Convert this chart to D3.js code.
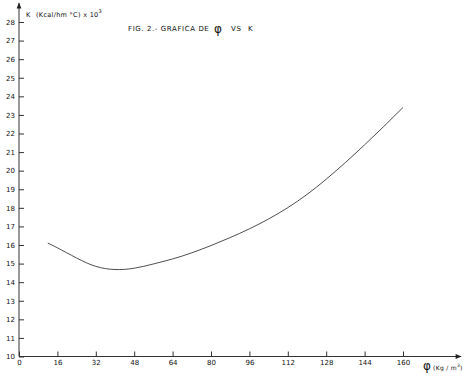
<!DOCTYPE html>
<html>
<head>
<meta charset="utf-8">
<script src="https://cdn.jsdelivr.net/npm/d3@7"></script>
<style>
  body { margin: 0; background: #fff; }
  text, tspan { font-family: "DejaVu Sans", sans-serif; fill: #111; }
</style>
</head>
<body>
<div id="chart"></div>
<script>
// density (Kg/m3) and K (Kcal/hm C x 10^3)
var density = [12, 16, 24, 32, 40, 48, 56, 64, 72, 80, 88, 96, 104, 112, 120, 128, 136, 144, 152, 160];
var kValues = [16.1, 15.85, 15.3, 14.85, 14.68, 14.75, 14.98, 15.25, 15.58, 15.97, 16.4, 16.87, 17.4, 18.01, 18.72, 19.54, 20.44, 21.39, 22.38, 23.4];
var xTicks = [0, 16, 32, 48, 64, 80, 96, 112, 128, 144, 160];
var yTicks = [10, 11, 12, 13, 14, 15, 16, 17, 18, 19, 20, 21, 22, 23, 24, 25, 26, 27, 28];

var w = 466, h = 377;

var svg = d3.select("#chart").append("svg")
    .attr("width", w)
    .attr("height", h);

var x = d3.scaleLinear().domain([0, 160]).range([19, 403]);
var y = d3.scaleLinear().domain([10, 28]).range([356.5, 22]);

// arrow heads
var defs = svg.append("defs");
defs.append("marker")
    .attr("id", "arrow")
    .attr("viewBox", "0 0 10 10")
    .attr("refX", 9).attr("refY", 5)
    .attr("markerWidth", 9).attr("markerHeight", 6)
    .attr("markerUnits", "userSpaceOnUse")
    .attr("orient", "auto")
    .append("path")
    .attr("d", "M0,1L10,5L0,9Z")
    .attr("fill", "#222");

// axes lines
svg.append("line")
    .attr("x1", x(0)).attr("y1", y(10))
    .attr("x2", 461).attr("y2", y(10))
    .attr("stroke", "#333").attr("stroke-width", 1)
    .attr("marker-end", "url(#arrow)");

svg.append("line")
    .attr("x1", x(0)).attr("y1", y(10))
    .attr("x2", x(0)).attr("y2", 3)
    .attr("stroke", "#333").attr("stroke-width", 1)
    .attr("marker-end", "url(#arrow)");

var xAxis = d3.axisBottom(x)
    .tickValues(xTicks)
    .tickSize(-5)
    .tickPadding(4)
    .tickFormat(d3.format("d"));

var gx = svg.append("g")
    .attr("transform", "translate(0," + y(10) + ")")
    .call(xAxis);
gx.select(".domain").remove();
gx.selectAll("line").attr("stroke", "#333");
gx.selectAll("text").style("font-size", "7px").attr("fill", "#111");

var yAxis = d3.axisLeft(y)
    .tickValues(yTicks)
    .tickSize(-5)
    .tickPadding(4)
    .tickFormat(d3.format("d"));

var gy = svg.append("g")
    .attr("transform", "translate(" + x(0) + ",0)")
    .call(yAxis);
gy.select(".domain").remove();
gy.selectAll("line").attr("stroke", "#333");
gy.selectAll("text").style("font-size", "7px").attr("fill", "#111");

// curve
var line = d3.line()
    .x(function (d, i) { return x(density[i]); })
    .y(function (d) { return y(d); })
    .curve(d3.curveNatural);

svg.append("path")
    .datum(kValues)
    .attr("d", line)
    .attr("fill", "none")
    .attr("stroke", "#3a3a3a")
    .attr("stroke-width", 0.9);

// title
var title = svg.append("text")
    .attr("y", 31)
    .style("font-size", "7px")
    .style("letter-spacing", "0.6px");
title.append("tspan").attr("x", 128).text("FIG. 2.- GRAFICA DE");
title.append("tspan").attr("x", 214).attr("y", 33).style("font-size", "12px").text("\u03C6");
title.append("tspan").attr("x", 231).attr("y", 31).text("VS");
title.append("tspan").attr("x", 248).text("K");

// y axis label
var yLabel = svg.append("text")
    .attr("y", 17)
    .style("font-size", "6.5px")
    .style("letter-spacing", "0.3px");
yLabel.append("tspan").attr("x", 26).text("K");
yLabel.append("tspan").attr("x", 36).text("(Kcal/hm \u00B0C) x 10");
yLabel.append("tspan").attr("dy", -4).style("font-size", "5px").text("3");

// x axis label
var xLabel = svg.append("text")
    .attr("x", 423).attr("y", 370)
    .style("font-size", "6px")
    .style("letter-spacing", "0.3px");
xLabel.append("tspan").style("font-size", "12px").text("\u03C6");
xLabel.append("tspan").attr("x", 433).text("(Kg / m");
xLabel.append("tspan").attr("dy", -3).style("font-size", "4.5px").text("3");
xLabel.append("tspan").attr("dy", 3).text(")");
</script>
</body>
</html>
